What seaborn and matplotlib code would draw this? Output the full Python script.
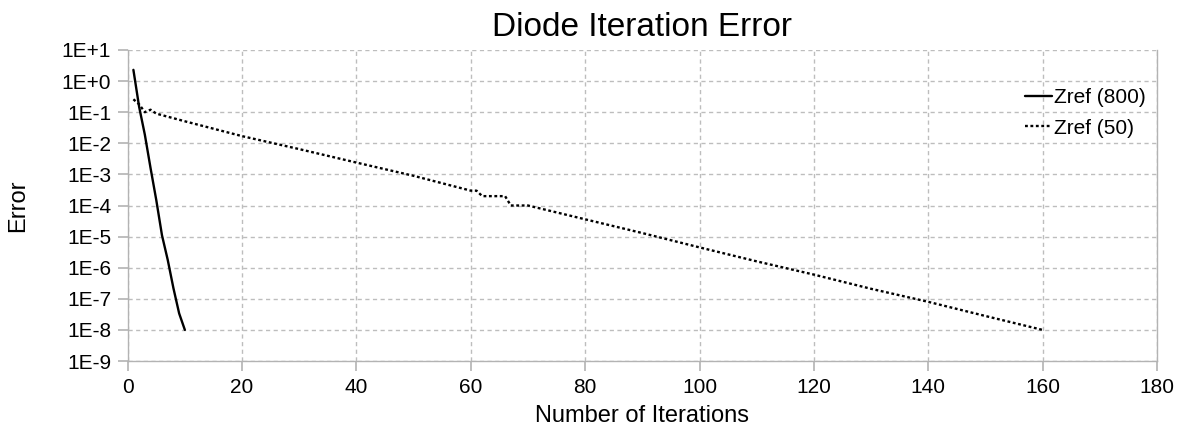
import numpy as np
import pandas as pd
import seaborn as sns
import matplotlib.pyplot as plt
from matplotlib.ticker import FixedLocator, FuncFormatter

# values
iter_800 = [1, 2, 3, 4, 5, 6, 7, 8, 9, 10]
err_800 = [2.3, 0.15, 0.019, 1.6e-3, 1.5e-4, 1.1e-5, 1.8e-6, 2.2e-7, 3.4e-8, 1e-8]

iter_50 = [1, 2, 3, 4, 5, 10, 20, 30, 40, 50, 60, 61, 62, 66, 67, 70,
           80, 90, 100, 110, 120, 130, 140, 150, 160]
err_50 = [0.26, 0.18, 0.1, 0.12, 0.09, 0.051, 0.017, 6.5e-3, 2.4e-3, 9e-4,
          3e-4, 3e-4, 2e-4, 2e-4, 1e-4, 1e-4, 3.6e-5, 1.3e-5, 4.5e-6,
          1.6e-6, 6e-7, 2.1e-7, 8e-8, 2.8e-8, 1e-8]

labels = ['Zref (800)', 'Zref (50)']

df = pd.concat([
    pd.DataFrame({'iter': iter_800, 'err': err_800, 'serie': labels[0]}),
    pd.DataFrame({'iter': iter_50, 'err': err_50, 'serie': labels[1]}),
])

sns.set_style('white', {'xtick.bottom': True, 'ytick.left': True})
plt.rcParams['font.family'] = ['Liberation Sans', 'DejaVu Sans']
plt.rcParams['text.color'] = 'black'
plt.rcParams['axes.labelcolor'] = 'black'

fig = plt.figure(figsize=(11.8, 4.4), dpi=100)
ax = fig.add_axes([0.1082, 0.1795, 0.8723, 0.7069])

ax.set_yscale('log')
sns.lineplot(data=df, x='iter', y='err', hue='serie', style='serie',
             palette=['black', 'black'], dashes=[(), (1.2, 1.1)],
             linewidth=1.7, sort=False, ax=ax)

ax.set_xlim(0, 180)
ax.set_ylim(1e-9, 1e1)
ax.xaxis.set_major_locator(FixedLocator(np.arange(0, 181, 20)))
ax.yaxis.set_major_locator(FixedLocator([10.0 ** k for k in range(-9, 2)]))
ax.yaxis.set_minor_locator(FixedLocator([]))
ax.yaxis.set_major_formatter(FuncFormatter(lambda v, p: f'1E{int(round(np.log10(v))):+d}'))

ax.grid(True, which='major', color='#bdbdbd', linestyle=(0, (3, 2.5)), linewidth=1)
for side in ['left', 'bottom', 'right']:
    ax.spines[side].set_color('#b3b3b3')
    ax.spines[side].set_linewidth(1)
ax.spines['top'].set_visible(False)
ax.tick_params(axis='both', which='major', direction='out', length=7, width=1.2,
               color='#b3b3b3', labelsize=15, labelcolor='black', pad=5,
               bottom=True, left=True)

ax.set_title('Diode Iteration Error', fontsize=24, pad=10, color='black')
ax.set_xlabel('Number of Iterations', fontsize=17, labelpad=6)
ax.set_ylabel('Error', fontsize=17, labelpad=23)

ax.legend(loc='upper left', bbox_to_anchor=(0.872, 0.877), frameon=False,
          fontsize=15, handlelength=1.3, handletextpad=0.1, labelspacing=0.55,
          borderpad=0, borderaxespad=0)

plt.savefig('out.png', dpi=100)
